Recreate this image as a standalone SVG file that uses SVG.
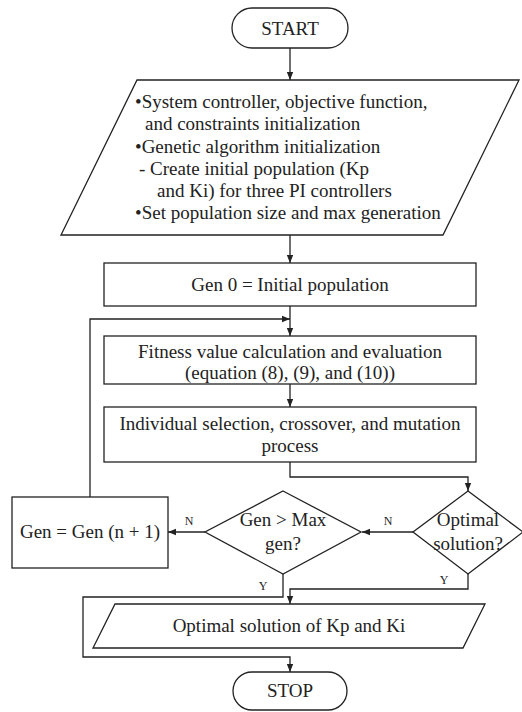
<svg xmlns="http://www.w3.org/2000/svg" width="522" height="712" viewBox="0 0 522 712">
<defs>
<style>
.s{fill:#fff;stroke:#222;stroke-width:1.3}
.c{fill:none;stroke:#222;stroke-width:1.3}
.t{font-family:"Liberation Serif","Times New Roman",serif;font-size:19px;fill:#222}
.m{text-anchor:middle}
.l{font-family:"Liberation Serif","Times New Roman",serif;font-size:12px;fill:#222;text-anchor:middle}
</style>
<marker id="ah" markerWidth="8" markerHeight="10" refX="10" refY="4" orient="auto" markerUnits="userSpaceOnUse" viewBox="0 0 10 8">
<path d="M0,0 L10,4 L0,8 z" fill="#222"/>
</marker>
</defs>
<rect width="522" height="712" fill="#fff"/>
<g id="connectors">
<line class="c" x1="290" y1="48" x2="290" y2="80" marker-end="url(#ah)"/>
<line class="c" x1="290" y1="235" x2="290" y2="263" marker-end="url(#ah)"/>
<line class="c" x1="290" y1="306" x2="290" y2="336" marker-end="url(#ah)"/>
<polyline class="c" points="90,497 90,319 290,319" marker-end="url(#ah)"/>
<line class="c" x1="290" y1="384" x2="290" y2="407" marker-end="url(#ah)"/>
<polyline class="c" points="290,462 290,477 468,477 468,491" marker-end="url(#ah)"/>
<line class="c" x1="413" y1="532" x2="362" y2="532" marker-end="url(#ah)"/>
<line class="c" x1="205" y1="532" x2="168" y2="532" marker-end="url(#ah)"/>
<polyline class="c" points="468,574 468,589 290,589 290,604" marker-end="url(#ah)"/>
<polyline class="c" points="283,574 283,597 83,597 83,657 290,657 290,672" marker-end="url(#ah)"/>
<text class="l" x="189" y="525">N</text>
<text class="l" x="388" y="525">N</text>
<text class="l" x="263" y="590">Y</text>
<text class="l" x="444" y="584">Y</text>
</g>
<g id="start">
<rect class="s" x="232" y="8" width="116" height="40" rx="20"/>
<text class="t m" x="290" y="34.5">START</text>
</g>
<g id="init">
<polygon class="s" points="137,80 519,80 443,235 61,235"/>
<text class="t" x="135" y="108">•System controller, objective function,</text>
<text class="t" x="145" y="130">and constraints initialization</text>
<text class="t" x="135" y="153">•Genetic algorithm initialization</text>
<text class="t" x="139" y="175">- Create initial population (Kp</text>
<text class="t" x="157" y="197">and Ki) for three PI controllers</text>
<text class="t" x="135" y="219">•Set population size and max generation</text>
</g>
<g id="gen0">
<rect class="s" x="104" y="263" width="372" height="43"/>
<text class="t m" x="290" y="291">Gen 0 = Initial population</text>
</g>
<g id="fitness">
<rect class="s" x="104" y="336" width="372" height="48"/>
<text class="t m" x="290" y="358">Fitness value calculation and evaluation</text>
<text class="t m" x="290" y="379">(equation (8), (9), and (10))</text>
</g>
<g id="selection">
<rect class="s" x="104" y="407" width="372" height="55"/>
<text class="t m" x="290" y="430">Individual selection, crossover, and mutation</text>
<text class="t m" x="290" y="452">process</text>
</g>
<g id="genmax">
<polygon class="s" points="283,491 361,532 283,574 205,532"/>
<text class="t m" x="283" y="526">Gen &gt; Max</text>
<text class="t m" x="283" y="550">gen?</text>
</g>
<g id="optimal">
<polygon class="s" points="468,491 523,532 468,574 413,532"/>
<text class="t m" x="468" y="526">Optimal</text>
<text class="t m" x="468" y="550">solution?</text>
</g>
<g id="genInc">
<rect class="s" x="12" y="497" width="156" height="71"/>
<text class="t m" x="90" y="538">Gen = Gen (n + 1)</text>
</g>
<g id="result">
<polygon class="s" points="115,604 485,604 463,648 93,648"/>
<text class="t m" x="289" y="632">Optimal solution of Kp and Ki</text>
</g>
<g id="stop">
<rect class="s" x="233" y="672" width="114" height="38" rx="19"/>
<text class="t m" x="290" y="697">STOP</text>
</g>
</svg>
